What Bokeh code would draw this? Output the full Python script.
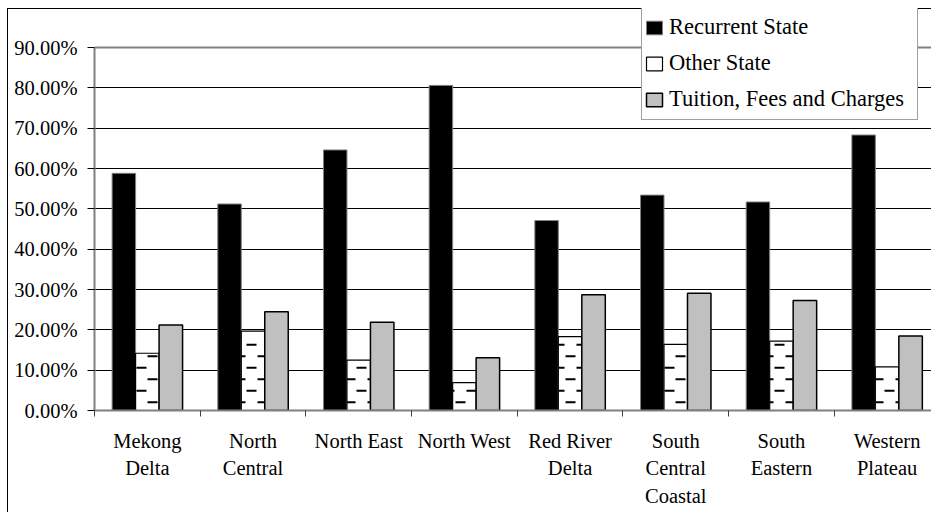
import math
from bokeh.plotting import figure
from bokeh.models import (ColumnDataSource, Range1d, FixedTicker, NumeralTickFormatter,
                          Legend, LegendItem, Span)
from bokeh.transform import dodge
from bokeh.embed import file_html
from bokeh.resources import INLINE

# Share of budget by source, per region (percent)
regions = ["Mekong\nDelta", "North\nCentral", "North East", "North West",
           "Red River\nDelta", "South\nCentral\nCoastal", "South\nEastern", "Western\nPlateau"]
recurrent_state = [58.8, 51.2, 64.6, 80.6, 47.1, 53.4, 51.7, 68.3]
other_state = [14.2, 19.7, 12.5, 6.9, 18.3, 16.4, 17.2, 10.8]
tuition_fees = [21.2, 24.5, 21.9, 13.1, 28.7, 29.1, 27.3, 18.5]
y_ticks = [0.0, 0.1, 0.2, 0.3, 0.4, 0.5, 0.6, 0.7, 0.8, 0.9]

FONT = "Liberation Serif"
FS = "20.5px"
LEGEND_FS = "22.5px"
BAR = 1 / 4.5  # bar width in category units (gap = 1.5 bars)
Y_TOP = 0.9    # top of the value axis

W, H = 931, 512
LEFT, TOP, BOTTOM = 94, 8, 102
X_END = 7.92
Y_END = 402 / 403.33
PX_X = (W - LEFT) / X_END            # pixels per category
PX_Y = (H - TOP - BOTTOM) / Y_END    # pixels per unit of share

centers = [i + 0.5 for i in range(len(regions))]
src = ColumnDataSource(dict(
    x=centers,
    rec=[v / 100 for v in recurrent_state],
    oth=[v / 100 for v in other_state],
    tui=[v / 100 for v in tuition_fees],
))

# staggered short dashes filling the "Other State" bars (brick layout, 22px period)
def dash_fill(values):
    x0, x1, y0 = [], [], []
    period, length = 22 / PX_X, 10 / PX_X
    for c, v in zip(centers, values):
        top = v / 100
        left, right = c - BAR / 2, c + BAR / 2
        k = 0
        while (8.3 + 11.5 * k) < top * PX_Y - 2.5:
            y = (8.3 + 11.5 * k) / PX_Y
            phase = (9 + 11 * (k % 2)) / PX_X
            s = phase + math.floor((left - phase - length) / period) * period
            while s < right:
                a, b = max(s, left), min(s + length, right)
                if (b - a) * PX_X > 1.5:
                    x0.append(a); x1.append(b); y0.append(y)
                s += period
            k += 1
    return ColumnDataSource(dict(x0=x0, x1=x1, y=y0))

p = figure(width=W, height=H, x_range=Range1d(0, X_END), y_range=Range1d(0, Y_END),
           output_backend="svg", toolbar_location=None,
           min_border_left=LEFT, min_border_right=0, min_border_top=TOP, min_border_bottom=BOTTOM)
p.background_fill_color = None
p.border_fill_color = None
p.outline_line_color = None
# chart-area border drawn on the host element (left and top edges)
p.styles = {"box-shadow": "inset 7px 8px 0 0 white, inset 8px 9px 0 0 black",
            "background-color": "white"}

r_rec = p.vbar(x=dodge("x", -BAR, range=p.x_range), top="rec", width=BAR, source=src,
               fill_color="black", line_color="#808080", line_width=1)
r_oth = p.vbar(x=dodge("x", 0, range=p.x_range), top="oth", width=BAR, source=src,
               fill_color="white", line_color="black", line_width=1.2)
p.segment(x0="x0", x1="x1", y0="y", y1="y", source=dash_fill(other_state),
          line_color="black", line_width=2, line_cap="butt")
r_tui = p.vbar(x=dodge("x", BAR, range=p.x_range), top="tui", width=BAR, source=src,
               fill_color="#C0C0C0", line_color="black", line_width=1.5)

# plot-area top edge
p.add_layout(Span(location=Y_TOP, dimension="width", line_color="#808080", line_width=2))

# y axis
yax = p.yaxis[0]
yax.ticker = FixedTicker(ticks=y_ticks, minor_ticks=[])
yax.bounds = (0, Y_TOP)
yax.formatter = NumeralTickFormatter(format="0.00%")
yax.axis_line_color = "#808080"
yax.axis_line_width = 2
yax.major_tick_out = 7
yax.major_tick_in = 0
yax.major_tick_line_color = "black"
yax.minor_tick_line_color = None
yax.major_label_standoff = 10
yax.major_label_text_font = FONT
yax.major_label_text_font_size = FS
yax.major_label_text_color = "black"

# x axis: labels at category centers, ticks at category boundaries
xax = p.xaxis[0]
xax.ticker = FixedTicker(ticks=centers, minor_ticks=list(range(len(regions) + 1)))
xax.major_label_overrides = {c: lab for c, lab in zip(centers, regions)}
xax.axis_line_color = "#808080"
xax.axis_line_width = 2
xax.major_tick_out = 0
xax.major_tick_in = 0
xax.minor_tick_out = 6
xax.minor_tick_in = 0
xax.minor_tick_line_color = "#404040"
xax.major_label_standoff = 13
xax.major_label_text_font = FONT
xax.major_label_text_font_size = FS
xax.major_label_text_color = "black"
xax.major_label_text_line_height = 1.27

p.xgrid.grid_line_color = None
p.ygrid.grid_line_color = "black"
p.ygrid.grid_line_width = 1

legend = Legend(items=[
    LegendItem(label="Recurrent State", renderers=[r_rec]),
    LegendItem(label="Other State", renderers=[r_oth]),
    LegendItem(label="Tuition, Fees and Charges", renderers=[r_tui]),
], location=(547, 290))
legend.label_text_font = FONT
legend.label_text_font_size = LEGEND_FS
legend.label_text_color = "black"
legend.glyph_width = 20
legend.glyph_height = 17
legend.label_height = 36
legend.label_width = 246
legend.label_standoff = 5
legend.spacing = 0
legend.padding = 2
legend.margin = 0
legend.border_line_color = "#404040"
legend.border_line_width = 1
legend.background_fill_color = "white"
legend.background_fill_alpha = 1
p.add_layout(legend, "center")

open("out.html", "w").write(file_html(p, INLINE))
